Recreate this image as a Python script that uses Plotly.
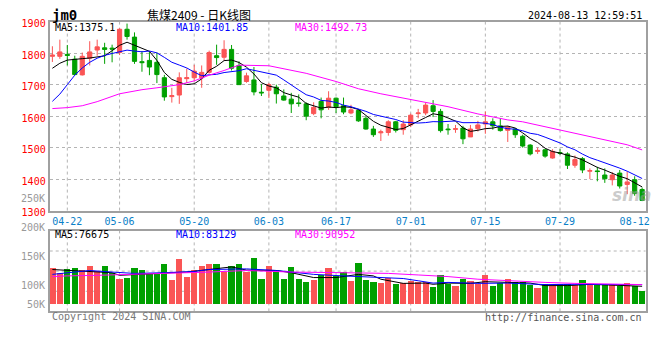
import plotly.graph_objects as go

# ---------------- data ----------------
dates = ["04-18", "04-19", "04-22", "04-23", "04-24", "04-25", "04-26", "04-29", "04-30",
         "05-06", "05-07", "05-08", "05-09", "05-10", "05-13", "05-14", "05-15", "05-16", "05-17",
         "05-20", "05-21", "05-22", "05-23", "05-24", "05-27", "05-28", "05-29", "05-30", "05-31",
         "06-03", "06-04", "06-05", "06-06", "06-07", "06-11", "06-12", "06-13", "06-14",
         "06-17", "06-18", "06-19", "06-20", "06-21", "06-24", "06-25", "06-26", "06-27", "06-28",
         "07-01", "07-02", "07-03", "07-04", "07-05", "07-08", "07-09", "07-10", "07-11", "07-12",
         "07-15", "07-16", "07-17", "07-18", "07-19", "07-22", "07-23", "07-24", "07-25", "07-26",
         "07-29", "07-30", "07-31", "08-01", "08-02", "08-05", "08-06", "08-07", "08-08", "08-09",
         "08-12", "08-13"]

opens = [1790, 1790, 1796, 1781, 1731, 1784, 1810, 1817, 1816, 1802,
         1876, 1851, 1773, 1777, 1771, 1722, 1662, 1667, 1719, 1722,
         1722, 1739, 1792, 1787, 1812, 1761, 1710, 1715, 1676, 1682,
         1692, 1664, 1654, 1642, 1639, 1608, 1647, 1628, 1657, 1633,
         1610, 1618, 1593, 1559, 1547, 1548, 1582, 1557, 1572, 1608,
         1610, 1633, 1615, 1559, 1558, 1562, 1534, 1560, 1575, 1582,
         1569, 1555, 1559, 1536, 1508, 1488, 1493, 1467, 1484, 1480,
         1444, 1465, 1425, 1426, 1413, 1398, 1419, 1383, 1398, 1367]
highs = [1822, 1843, 1826, 1792, 1802, 1838, 1843, 1833, 1827, 1879,
         1894, 1866, 1807, 1804, 1802, 1731, 1690, 1739, 1751, 1763,
         1761, 1808, 1827, 1841, 1826, 1774, 1738, 1756, 1702, 1705,
         1700, 1685, 1674, 1669, 1644, 1644, 1659, 1679, 1659, 1659,
         1636, 1623, 1600, 1569, 1557, 1587, 1585, 1587, 1608, 1623,
         1643, 1651, 1623, 1575, 1572, 1569, 1572, 1585, 1615, 1593,
         1593, 1569, 1562, 1541, 1511, 1500, 1495, 1495, 1495, 1485,
         1475, 1470, 1434, 1439, 1434, 1422, 1429, 1424, 1409, 1373]
lows = [1772, 1782, 1761, 1730, 1729, 1761, 1792, 1766, 1771, 1794,
        1843, 1766, 1741, 1730, 1705, 1649, 1643, 1639, 1705, 1710,
        1690, 1735, 1763, 1777, 1745, 1699, 1706, 1666, 1664, 1657,
        1640, 1649, 1610, 1630, 1587, 1603, 1593, 1620, 1610, 1606,
        1606, 1582, 1557, 1534, 1521, 1538, 1548, 1541, 1565, 1593,
        1603, 1597, 1548, 1541, 1547, 1511, 1534, 1551, 1544, 1557,
        1551, 1518, 1531, 1500, 1475, 1480, 1468, 1465, 1477, 1432,
        1436, 1419, 1400, 1393, 1388, 1380, 1370, 1352, 1347, 1330]
closes = [1794, 1804, 1793, 1732, 1790, 1804, 1820, 1812, 1813, 1876,
          1853, 1774, 1770, 1756, 1732, 1661, 1665, 1722, 1722, 1743,
          1739, 1802, 1786, 1812, 1752, 1700, 1728, 1677, 1674, 1700,
          1671, 1651, 1639, 1640, 1600, 1628, 1620, 1657, 1630, 1613,
          1620, 1585, 1559, 1541, 1550, 1582, 1555, 1575, 1603, 1610,
          1635, 1615, 1554, 1557, 1560, 1528, 1559, 1572, 1582, 1569,
          1554, 1565, 1541, 1505, 1480, 1491, 1473, 1488, 1482, 1444,
          1462, 1429, 1427, 1424, 1401, 1413, 1378, 1391, 1354, 1332]

volumes = [130000, 121700, 128300, 130000, 125500, 133300, 124500, 133300, 121700, 111700,
           113300, 130000, 126700, 118800, 121700, 136700, 109500, 145000, 115000, 125500,
           133300, 136700, 136700, 122800, 133300, 136700, 123300, 146700, 111700, 133800,
           127200, 111700, 131700, 110500, 105000, 109500, 117800, 130000, 116200, 122800,
           107800, 138300, 109500, 106200, 103300, 113300, 101700, 103300, 107800, 105000,
           105000, 96700, 117800, 103000, 99500, 111700, 107800, 102200, 117200, 98300,
           103800, 111700, 106200, 106200, 100500, 95000, 102200, 99500, 102200, 102200,
           100500, 109500, 102200, 102200, 102200, 102200, 99500, 103300, 99500, 90000]

ma5 = [1752, 1768, 1778, 1781, 1782.6, 1784.6, 1787.8, 1791.6, 1807.8, 1825.0,
       1834.8, 1825.6, 1817.2, 1805.8, 1777.0, 1738.6, 1716.8, 1707.2, 1700.4, 1702.6,
       1718.2, 1745.6, 1758.4, 1776.4, 1778.2, 1770.4, 1755.6, 1733.8, 1706.2, 1695.8,
       1690.0, 1674.6, 1667.0, 1660.2, 1640.2, 1631.6, 1625.4, 1629.0, 1627.0, 1629.6,
       1628.0, 1621.0, 1601.4, 1583.6, 1571.0, 1563.4, 1557.4, 1560.6, 1573.0, 1585.0,
       1595.6, 1607.6, 1603.4, 1594.2, 1584.2, 1562.8, 1551.6, 1555.2, 1560.2, 1562.0,
       1567.2, 1568.4, 1562.2, 1546.8, 1529.0, 1516.4, 1498.0, 1487.4, 1482.8, 1475.6,
       1469.8, 1461.0, 1448.8, 1437.2, 1428.6, 1418.8, 1408.6, 1401.4, 1387.4, 1375.1]
ma10 = [1647, 1670, 1700, 1730, 1753, 1771, 1784, 1793, 1799, 1803.8,
        1809.7, 1806.7, 1804.4, 1806.8, 1801.0, 1786.7, 1771.2, 1762.2, 1753.1, 1739.8,
        1728.4, 1731.2, 1732.8, 1738.4, 1740.4, 1744.3, 1750.6, 1746.1, 1741.3, 1737.0,
        1730.2, 1715.1, 1700.4, 1683.2, 1668.0, 1660.8, 1650.0, 1648.0, 1643.6, 1634.9,
        1629.8, 1623.2, 1615.2, 1605.3, 1600.3, 1595.7, 1589.2, 1581.0, 1578.3, 1578.0,
        1579.5, 1582.5, 1582.0, 1583.6, 1584.6, 1579.2, 1579.6, 1579.3, 1577.2, 1573.1,
        1565.0, 1560.0, 1558.7, 1553.5, 1545.5, 1541.8, 1533.2, 1524.8, 1514.8, 1502.3,
        1493.1, 1479.5, 1468.1, 1460.0, 1452.1, 1444.3, 1434.8, 1425.1, 1412.3, 1401.85]
ma30_dates = ["04-18", "04-22", "04-24", "04-26", "05-06", "05-09", "05-13", "05-16", "05-20",
              "05-22", "05-24", "05-28", "06-03", "06-11", "06-17", "06-20", "06-25", "07-01",
              "07-03", "07-08", "07-12", "07-18", "07-22", "07-29", "08-02", "08-09", "08-13"]
ma30_vals = [1624, 1627, 1633, 1646, 1671, 1684, 1690, 1700, 1712,
             1730, 1745, 1762, 1760, 1736, 1710, 1687, 1671, 1652,
             1643, 1630, 1607, 1588, 1582, 1556, 1535, 1509, 1492.73]

vma5_dates = ["04-18", "04-22", "04-30", "05-06", "05-08", "05-13", "05-15", "05-17", "05-21",
              "05-23", "05-27", "05-29", "06-04", "06-06", "06-12", "06-17", "06-20", "06-24",
              "06-25", "06-28", "07-03", "07-04", "07-08", "07-11", "07-15", "07-18", "07-23",
              "07-25", "07-30", "08-02", "08-07", "08-13"]
vma5_vals = [127200, 125500, 121700, 117200, 118800, 120000, 121700, 122800, 126200,
             128300, 131700, 126200, 125500, 121700, 113300, 113300, 118800, 116200,
             110500, 103300, 103800, 101700, 103800, 103300, 106200, 105000, 103800,
             99500, 99500, 101700, 100500, 98300]
vma10_dates = ["04-18", "04-23", "04-25", "04-30", "05-08", "05-14", "05-20", "05-22", "05-29",
               "06-04", "06-12", "06-18", "06-24", "06-28", "07-02", "07-04", "07-08", "07-12",
               "07-18", "07-25", "07-31", "08-06", "08-13"]
vma10_vals = [118800, 122800, 125500, 122800, 120500, 121700, 123800, 127200, 128300,
              125500, 118800, 116200, 114500, 111700, 107800, 103800, 105000, 103300,
              103800, 101200, 101700, 101200, 101200]
vma30_dates = ["04-18", "04-22", "04-26", "05-07", "05-16", "05-22", "05-29", "06-06", "06-18",
               "06-26", "07-02", "07-08", "07-12", "07-18", "07-25", "07-31", "08-06", "08-13"]
vma30_vals = [115000, 116200, 117200, 118800, 120500, 122800, 125500, 122800, 121700,
              120500, 117800, 115000, 110500, 107800, 105000, 103300, 102200, 101200]

label_dates = ["04-22", "05-06", "05-20", "06-03", "06-17", "07-01", "07-15", "07-29", "08-12"]
grid_dates = ["04-22", "05-06", "05-20", "06-03", "06-17", "07-01", "07-15", "07-29"]
price_ticks = [1300, 1400, 1500, 1600, 1700, 1800, 1900]
vol_label_text = ["250K", "200K", "150K", "100K", "50K"]
VOL_BASE = 67000
vol_label_vals = [250000, 200000, 150000, 100000, VOL_BASE]

title_code = "jm0"
title_name = "焦煤2409 - 日K线图"
timestamp = "2024-08-13 12:59:51"
price_ma_text = ["MA5:1375.1", "MA10:1401.85", "MA30:1492.73"]
vol_ma_text = ["MA5:76675", "MA10:83129", "MA30:90952"]

# ---------------- styling ----------------
W, H = 660, 360
RED = "#fa5555"
GREEN = "#00a000"
BLUE = "#0000ff"
MAGENTA = "#ff00ff"
GRID = "#b4b4b4"
BORDER = "#a0a0a0"
MONO = "DejaVu Sans Mono"
X_RANGE = [-0.36, 79.46]
P_RANGE = [1300, 1900]
V_RANGE = [55000, 193800]


def px(x):
    return x / W


def py(y):
    return 1 - y / H


XDOM = [px(50), px(649.5)]
PDOM = [py(213.7), py(18.3)]
VDOM = [py(318.0), py(234.7)]

xi = list(range(len(dates)))
idx = {d: i for i, d in enumerate(dates)}

fig = go.Figure()

fig.add_trace(go.Candlestick(
    x=xi, open=opens, high=highs, low=lows, close=closes,
    increasing=dict(line=dict(color=RED, width=1), fillcolor=RED),
    decreasing=dict(line=dict(color=GREEN, width=1), fillcolor=GREEN),
    whiskerwidth=0, hoverinfo="skip", xaxis="x", yaxis="y", showlegend=False))

for vals, col in [(ma5, "black"), (ma10, BLUE)]:
    fig.add_trace(go.Scatter(x=xi, y=vals, mode="lines", line=dict(color=col, width=1),
                             hoverinfo="skip", xaxis="x", yaxis="y", showlegend=False))
fig.add_trace(go.Scatter(x=[idx[d] for d in ma30_dates], y=ma30_vals, mode="lines",
                         line=dict(color=MAGENTA, width=1), hoverinfo="skip",
                         xaxis="x", yaxis="y", showlegend=False))

vol_colors = [RED if c >= o else GREEN for o, c in zip(opens, closes)]
fig.add_trace(go.Bar(x=xi, y=[v - VOL_BASE for v in volumes], base=VOL_BASE,
                     marker=dict(color=vol_colors, line=dict(width=0)), width=0.84,
                     hoverinfo="skip", xaxis="x2", yaxis="y2", showlegend=False))
for dts, vals, col in [(vma5_dates, vma5_vals, "black"), (vma10_dates, vma10_vals, BLUE),
                       (vma30_dates, vma30_vals, MAGENTA)]:
    fig.add_trace(go.Scatter(x=[idx[d] for d in dts], y=vals, mode="lines",
                             line=dict(color=col, width=1), hoverinfo="skip",
                             xaxis="x2", yaxis="y2", showlegend=False))

shapes = []
for d in grid_dates:
    for xr, yr in [("x", "y domain"), ("x2", "y2 domain")]:
        shapes.append(dict(type="line", xref=xr, yref=yr, x0=idx[d], x1=idx[d], y0=0, y1=1,
                           line=dict(color=GRID, width=1, dash="dot"), layer="below"))
for f in [0.25, 0.5, 0.75]:
    shapes.append(dict(type="line", xref="x2 domain", yref="y2 domain", x0=0, x1=1, y0=f, y1=f,
                       line=dict(color=GRID, width=1, dash="dot"), layer="below"))

ann = []
ann.append(dict(text="<b>" + title_code + "</b>", x=px(50), y=py(11), xref="paper", yref="paper",
                xanchor="left", yanchor="middle", showarrow=False,
                font=dict(family=MONO, size=14, color="black")))
ann.append(dict(text=title_name, x=px(200), y=py(11), xref="paper", yref="paper",
                xanchor="center", yanchor="middle", showarrow=False,
                font=dict(family="Noto Sans CJK SC", size=12, color="black")))
ann.append(dict(text=timestamp, x=px(648), y=py(12), xref="paper", yref="paper",
                xanchor="right", yanchor="middle", showarrow=False,
                font=dict(family=MONO, size=10, color="black")))
for txt, xx, col in zip(price_ma_text, [53, 175, 295], ["black", BLUE, MAGENTA]):
    ann.append(dict(text=txt, x=px(xx), y=py(24.5), xref="paper", yref="paper",
                    xanchor="left", yanchor="middle", showarrow=False,
                    font=dict(family=MONO, size=10, color=col)))
for txt, xx, col in zip(vol_ma_text, [53, 175, 295], ["black", BLUE, MAGENTA]):
    ann.append(dict(text=txt, x=px(xx), y=py(238.5), xref="paper", yref="paper",
                    xanchor="left", yanchor="middle", showarrow=False,
                    font=dict(family=MONO, size=10, color=col)))
for txt, v in zip(vol_label_text, vol_label_vals):
    frac = (v - V_RANGE[0]) / (V_RANGE[1] - V_RANGE[0])
    ann.append(dict(text=txt, x=px(47), y=frac, xref="paper", yref="y2 domain",
                    xanchor="right", yanchor="middle", showarrow=False,
                    font=dict(family=MONO, size=10, color="#999999")))
ann.append(dict(text="Copyright 2024 SINA.COM", x=px(50), y=py(323.5), xref="paper", yref="paper",
                xanchor="left", yanchor="middle", showarrow=False,
                font=dict(family=MONO, size=10, color="#777777")))
ann.append(dict(text="http://finance.sina.com.cn", x=px(648), y=py(324), xref="paper", yref="paper",
                xanchor="right", yanchor="middle", showarrow=False,
                font=dict(family=MONO, size=10, color="#555555")))
ann.append(dict(text="<b><i>sina</i></b>", x=px(636), y=py(198), xref="paper", yref="paper",
                xanchor="center", yanchor="middle", showarrow=False,
                font=dict(family="DejaVu Sans", size=17, color="rgba(160,160,160,0.55)")))

axis_common = dict(showline=True, mirror=True, linecolor=BORDER, linewidth=2, zeroline=False,
                   fixedrange=True)
fig.update_layout(
    width=W, height=H, autosize=False,
    margin=dict(l=0, r=0, t=0, b=0),
    paper_bgcolor="white", plot_bgcolor="white",
    boxgap=0.2, bargap=0,
    showlegend=False,
    xaxis=dict(domain=XDOM, range=X_RANGE, anchor="y", rangeslider=dict(visible=False),
               tickvals=[idx[d] for d in label_dates], ticktext=label_dates, ticks="",
               tickfont=dict(family=MONO, size=10, color="#0a80c8"), showgrid=False,
               **axis_common),
    yaxis=dict(domain=PDOM, range=P_RANGE, anchor="x", tickvals=price_ticks,
               ticktext=[str(t) for t in price_ticks], ticks="", ticklabelshift=2,
               tickfont=dict(family=MONO, size=10, color="#ff0000"),
               showgrid=True, gridcolor=GRID, griddash="dot", gridwidth=1, **axis_common),
    xaxis2=dict(domain=XDOM, range=X_RANGE, anchor="y2", showticklabels=False, ticks="",
                showgrid=False, **axis_common),
    yaxis2=dict(domain=VDOM, range=V_RANGE, anchor="x2", showticklabels=False, ticks="",
                showgrid=False, **axis_common),
    shapes=shapes,
    annotations=ann,
)

# remove the browser's default 8px page margin so the figure fills the window exactly
fig.write_html("out.html", config={"displayModeBar": False, "staticPlot": True},
               post_script="document.body.style.margin='0';document.body.style.overflow='hidden';")
